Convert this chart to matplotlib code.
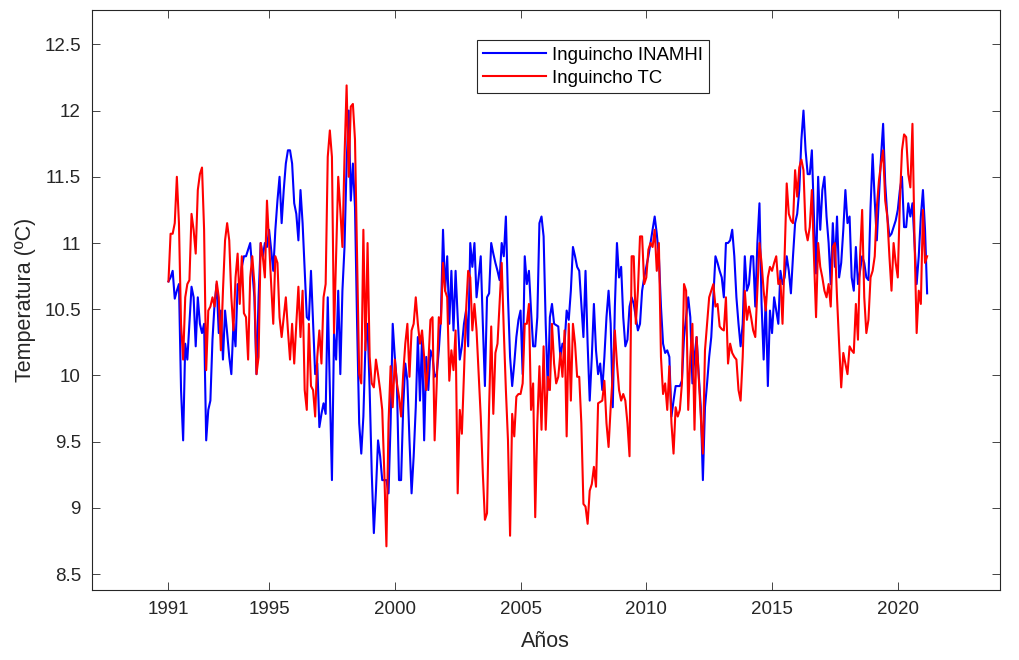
import numpy as np
import matplotlib.pyplot as plt

plt.rcParams['font.family'] = ['Liberation Sans', 'DejaVu Sans']

## Data (monthly means, starting Jan 1991)
inamhi = [
    10.71, 10.74, 10.79, 10.58, 10.64, 10.69, 9.89, 9.51, 10.24, 10.12,
    10.39, 10.67, 10.59, 10.22, 10.59, 10.39, 10.32, 10.39, 9.51, 9.74,
    9.81, 10.27, 10.54, 10.69, 10.32, 10.49, 10.12, 10.49, 10.32, 10.14,
    10.01, 10.39, 10.22, 10.69, 10.64, 10.82, 10.9, 10.9, 10.95, 11.0,
    10.79, 10.59, 10.01, 10.59,
    11.0, 10.9, 11.0, 10.97, 11.1, 10.95, 10.79, 11.1, 11.32, 11.5,
    11.15, 11.4, 11.6, 11.7, 11.7, 11.6, 11.3, 11.22, 11.02, 11.4,
    11.15, 10.79, 10.44, 10.42, 10.79, 10.39, 10.01, 10.09, 9.61, 9.71,
    9.79, 9.71, 10.59, 9.89, 9.21, 10.32, 10.12, 10.64, 10.01, 10.64,
    10.97, 11.6, 12.0, 11.32, 11.6,
    11.27, 10.39, 9.64, 9.41, 9.69, 10.24, 10.39, 9.89, 9.26, 8.81,
    9.13, 9.51, 9.39, 9.21, 9.21, 9.21, 9.11, 9.64, 10.39, 10.14,
    9.94, 9.21, 9.21, 9.76, 10.09, 9.96, 9.51, 9.11, 9.39, 9.76,
    10.29, 9.81, 10.29, 9.51, 10.14, 9.89, 10.19, 10.14, 9.99, 10.01,
    10.19, 10.44, 11.1, 10.64, 10.9, 10.39,
    10.79, 10.34, 10.79, 10.44, 10.12, 10.22, 10.39, 10.49, 10.22, 11.0,
    10.82, 11.0, 10.59, 10.74, 10.9, 10.39, 9.92, 10.59, 10.62, 11.0,
    10.92, 10.85, 10.79, 10.72, 11.0, 10.9, 11.2, 10.59, 10.14, 9.92,
    10.09, 10.29, 10.42, 10.49, 10.01, 10.9, 10.69, 10.79, 10.49, 10.22,
    10.22, 10.44, 11.15, 11.2, 11.05,
    10.39, 9.89, 10.44, 10.54, 10.39, 10.38, 10.37, 10.14, 10.24, 10.24,
    10.49, 10.42, 10.64, 10.97, 10.9, 10.82, 10.79, 10.54, 10.29, 10.79,
    10.24, 9.81, 10.14, 10.54, 10.19, 10.01, 10.09, 9.89, 10.14, 10.44,
    10.64, 10.39, 9.76, 10.52, 11.0, 10.74, 10.82, 10.44, 10.22, 10.27,
    10.52, 10.59, 10.54, 10.44, 10.34,
    10.39, 10.64, 10.74, 10.82, 10.9, 11.0, 11.1, 11.2, 11.07, 10.9,
    10.52, 10.24, 10.17, 10.19, 10.14, 9.69, 9.81, 9.92, 9.92, 9.92,
    9.96, 10.29, 10.44, 10.59, 10.44, 9.94, 10.14, 10.29, 10.01, 9.76,
    9.21, 9.76, 9.94, 10.14, 10.29, 10.59, 10.9, 10.85, 10.79, 10.74,
    10.59, 11.0, 11.0, 11.02, 11.1,
    10.9, 10.59, 10.39, 10.22, 10.39, 10.9, 10.64, 10.69, 10.9, 10.9,
    10.52, 11.0, 11.3, 10.54, 10.12, 10.59, 9.92, 10.49, 10.32, 10.59,
    10.49, 10.39, 10.79, 10.69, 10.74, 10.9, 10.79, 10.62, 10.9, 11.15,
    11.22, 11.4, 11.78, 12.0, 11.7, 11.52, 11.52, 11.7, 11.2, 10.77,
    11.5, 11.1, 11.4, 11.5, 11.2, 11.0,
    10.69, 11.15, 10.82, 11.2, 10.74, 10.85, 11.1, 11.4, 11.15, 11.2,
    10.74, 10.64, 10.97, 10.69, 10.79, 10.9, 10.85, 10.74, 10.72, 11.27,
    11.67, 11.32, 11.02, 11.35, 11.65, 11.9, 11.45, 11.2, 11.05, 11.07,
    11.12, 11.17, 11.25, 11.4, 11.5, 11.12, 11.12, 11.3, 11.2, 11.3,
    11.0, 10.69, 10.9, 11.2, 11.4, 11.1, 10.62,
]

tc = [
    10.71, 11.07, 11.07, 11.15, 11.5, 11.15, 10.39, 10.12, 10.59, 10.69,
    10.72, 11.22, 11.1, 10.92, 11.4, 11.52, 11.57, 11.1, 10.04, 10.49,
    10.52, 10.59, 10.52, 10.71, 10.59, 10.19, 10.64, 11.02, 11.15, 11.02,
    10.59, 10.34, 10.74, 10.92, 10.54, 10.9, 10.47, 10.44, 10.12, 10.74,
    10.9, 10.69, 10.01,
    10.14, 11.0, 10.9, 10.74, 11.32, 11.0, 10.69, 10.39, 10.9, 10.85,
    10.44, 10.29, 10.44, 10.59, 10.34, 10.12, 10.39, 10.09, 10.39, 10.67,
    10.29, 10.64, 9.89, 9.74, 10.39, 9.92, 9.89, 9.69, 10.14, 10.34,
    10.09, 10.59, 10.69, 11.65, 11.85, 11.65, 10.32, 10.9, 11.5, 11.25,
    10.97, 11.65, 12.19, 11.5, 12.03, 12.05,
    11.78, 10.9, 10.01, 9.94, 11.1, 10.19, 11.0, 10.14, 9.94, 9.91,
    10.12, 10.01, 9.89, 9.74, 9.26, 8.71, 9.64, 10.07, 9.76, 10.12,
    9.94, 9.84, 9.69, 10.01, 10.24, 10.39, 9.99, 10.34, 10.39, 10.59,
    10.39, 10.24, 10.34, 10.14, 9.89, 10.09, 10.42, 10.44, 9.51, 9.94,
    10.44, 10.39, 10.85, 10.64, 10.59, 9.96,
    10.19, 10.04, 10.34, 9.11, 9.74, 9.56, 10.01, 10.49, 10.79, 10.74,
    10.34, 10.54, 10.34, 10.01, 9.69, 9.26, 8.91, 8.96, 9.76, 10.37,
    9.71, 10.17, 10.24, 10.54, 10.85, 10.34, 9.89, 9.51, 8.79, 9.71,
    9.54, 9.84, 9.86, 9.86, 9.94, 10.39, 10.39, 10.54, 9.74, 9.94,
    8.93, 9.64, 10.07, 9.59, 10.22,
    9.59, 9.99, 9.89, 10.39, 10.09, 9.94, 9.99, 10.17, 9.99, 10.34,
    9.54, 10.39, 9.81, 10.39, 10.24, 9.99, 9.99, 9.64, 9.03, 9.01,
    8.88, 9.13, 9.18, 9.31, 9.16, 9.79, 9.8, 9.81, 9.96, 9.64,
    9.46, 9.76, 10.01, 10.34, 10.09, 9.89, 9.81, 9.86, 9.81, 9.64,
    9.39, 10.9, 10.9, 10.39, 10.64,
    11.05, 11.05, 10.69, 10.74, 10.95, 11.0, 10.97, 11.1, 10.79, 11.0,
    10.14, 9.86, 9.94, 9.74, 10.07, 9.64, 9.41, 9.76, 9.69, 9.74,
    9.94, 10.69, 10.64, 9.74, 10.14, 10.39, 9.59, 10.29, 9.99, 9.69,
    9.41, 10.19, 10.39, 10.59, 10.64, 10.69, 10.52, 10.54, 10.37, 10.35,
    10.34, 10.59, 10.09, 10.24, 10.17,
    10.14, 10.12, 9.89, 9.81, 10.14, 10.64, 10.42, 10.52, 10.44, 10.34,
    10.29, 10.64, 11.0, 10.85, 10.64, 10.49, 10.74, 10.82, 10.79, 10.85,
    10.9, 10.69, 10.72, 10.39, 10.9, 11.45, 11.22, 11.17, 11.15, 11.55,
    11.35, 11.57, 11.63, 11.55, 11.1, 11.02, 11.12, 11.4, 10.9, 10.44,
    11.0, 10.82, 10.74, 10.64, 10.59, 10.69,
    10.52, 10.97, 11.0, 10.59, 10.24, 9.91, 10.17, 10.09, 10.01, 10.22,
    10.19, 10.17, 10.54, 10.27, 10.9, 11.25, 10.59, 10.32, 10.42, 10.74,
    10.79, 10.9, 11.27, 11.47, 11.6, 11.7, 11.32, 11.2, 10.9, 10.64,
    11.0, 10.85, 10.74, 11.32, 11.7, 11.82, 11.8, 11.52, 11.42, 11.9,
    11.02, 10.32, 10.64, 10.54, 11.25, 10.85, 10.9,
]

year_ticks = [1991, 1995, 2000, 2005, 2010, 2015, 2020]
temp_ticks = [8.5, 9, 9.5, 10, 10.5, 11, 11.5, 12, 12.5]

t = 1991 + np.arange(len(inamhi)) / 12

## Plot
fig = plt.figure(figsize=(10.19, 6.6), dpi=100)
ax = fig.add_axes([0.0903, 0.106, 0.8907, 0.879])

ax.plot(t, inamhi, color='#0000ff', lw=1.5, label='Inguincho INAMHI')
ax.plot(t, tc, color='#ff0000', lw=1.5, label='Inguincho TC')

ax.set_xlim(1987.96, 2024.05)
ax.set_ylim(8.38, 12.76)
ax.set_xticks(year_ticks)
ax.set_xticklabels([str(y) for y in year_ticks])
ax.set_yticks(temp_ticks)
ax.set_yticklabels([f'{v:g}' for v in temp_ticks])

dark = '#262626'
ax.tick_params(direction='in', length=6, width=0.6, colors=dark,
               labelsize=13.5, top=True, right=True, pad=8)
for s in ax.spines.values():
    s.set_color(dark)
    s.set_linewidth(0.8)

ax.set_xlabel('Años', fontsize=15.5, color=dark, labelpad=9)
ax.set_ylabel('Temperatura (ºC)', fontsize=15.5, color=dark, labelpad=6)

leg = ax.legend(loc='upper left', bbox_to_anchor=(0.468, 0.939),
                bbox_transform=fig.transFigure, fancybox=False,
                edgecolor=dark, framealpha=1, fontsize=13.4,
                handlelength=3.4, borderpad=0.34, labelspacing=0.34,
                handletextpad=0.3, borderaxespad=0)
leg.get_frame().set_linewidth(0.8)

fig.savefig('out.png', dpi=100)
